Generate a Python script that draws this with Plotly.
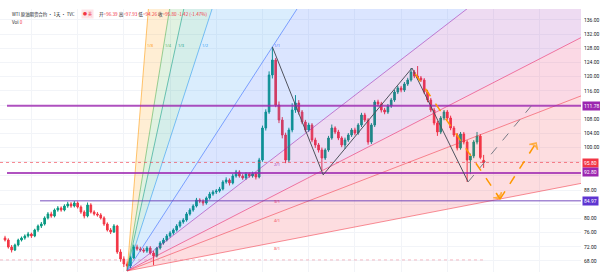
import plotly.graph_objects as go

# ---------------- data ----------------
idx = list(range(146))
opens = [74.50, 73.92, 71.94, 71.10, 72.51, 73.92, 74.48, 75.05, 75.61, 75.05,
 76.74, 77.87, 78.43, 80.13, 81.26, 80.69, 82.38, 82.95, 82.38, 83.51,
 84.08, 83.51, 84.36, 83.23, 81.82, 80.69, 83.79, 81.82, 81.26, 80.97,
 80.13, 78.43, 76.74, 76.18, 77.87, 70.53, 68.56, 67.15, 66.58, 68.84,
 71.94, 71.38, 71.10, 70.81, 71.66, 70.25, 69.40, 71.66, 73.07, 73.92,
 75.05, 75.90, 76.74, 77.87, 79.00, 79.56, 81.26, 82.38, 83.51, 85.21,
 84.92, 84.36, 85.77, 86.90, 87.46, 87.75, 88.31, 90.29, 90.85, 90.01,
 91.98, 93.11, 91.98, 91.42, 92.54, 91.98, 92.54, 91.70, 96.49, 105.52,
 110.04, 120.48, 124.71, 112.01, 107.78, 103.55, 96.49, 104.96, 110.60, 112.58,
 110.04, 107.22, 104.96, 106.37, 102.14, 100.73, 99.31, 97.06, 99.31, 102.70,
 105.52, 104.39, 102.70, 100.73, 102.14, 103.55, 104.96, 104.11, 106.37, 109.19,
 107.78, 101.57, 106.37, 112.86, 112.29, 110.60, 110.04, 111.73, 113.42, 115.68,
 116.81, 116.24, 117.94, 119.07, 121.32, 120.19, 119.63, 119.07, 115.68, 113.42,
 110.60, 106.93, 104.39, 108.34, 110.04, 108.34, 105.52, 103.55, 99.88, 103.83,
 101.57, 96.49, 97.62, 101.57, 103.26, 96.39]
closes = [73.92, 71.94, 71.10, 72.51, 73.92, 74.48, 75.05, 75.61, 75.05, 76.74,
 77.87, 78.43, 80.13, 81.26, 80.69, 82.38, 82.95, 82.38, 83.51, 84.08,
 83.51, 84.36, 83.23, 81.82, 80.69, 83.79, 81.82, 81.26, 80.97, 80.13,
 78.43, 76.74, 76.18, 77.87, 70.53, 68.56, 67.15, 66.58, 68.84, 71.94,
 71.38, 71.10, 70.81, 71.66, 70.25, 69.40, 71.66, 73.07, 73.92, 75.05,
 75.90, 76.74, 77.87, 79.00, 79.56, 81.26, 82.38, 83.51, 85.21, 84.92,
 84.36, 85.77, 86.90, 87.46, 87.75, 88.31, 90.29, 90.85, 90.01, 91.98,
 93.11, 91.98, 91.42, 92.54, 91.98, 92.54, 91.70, 96.49, 105.52, 110.04,
 120.48, 124.71, 112.01, 107.78, 103.55, 96.49, 104.96, 110.60, 112.58, 110.04,
 107.22, 104.96, 106.37, 102.14, 100.73, 99.31, 97.06, 99.31, 102.70, 105.52,
 104.39, 102.70, 100.73, 102.14, 103.55, 104.96, 104.11, 106.37, 109.19, 107.78,
 101.57, 106.37, 112.86, 112.29, 110.60, 110.04, 111.73, 113.42, 115.68, 116.81,
 116.24, 117.94, 119.07, 121.32, 120.19, 119.63, 119.07, 115.68, 113.42, 110.60,
 106.93, 104.39, 108.34, 110.04, 108.34, 105.52, 103.55, 99.88, 103.83, 101.57,
 96.49, 97.62, 101.57, 103.26, 97.22, 95.80]
highs = [75.1, 74.4, 72.5, 72.9, 74.3, 74.9, 75.5, 76.2, 76.0, 77.1,
 78.3, 79.0, 80.6, 81.8, 81.9, 82.8, 83.5, 83.4, 84.0, 84.7,
 84.6, 84.9, 84.8, 83.7, 82.3, 84.5, 84.3, 82.3, 81.8, 81.5,
 80.6, 78.9, 77.3, 78.4, 78.2, 71.3, 69.3, 67.9, 69.3, 72.6,
 72.6, 72.0, 71.7, 72.2, 72.2, 70.8, 72.0, 73.6, 74.5, 75.6,
 76.4, 77.2, 78.4, 79.5, 80.1, 81.8, 82.9, 84.0, 85.8, 85.7,
 85.4, 86.2, 87.5, 88.0, 88.3, 88.9, 90.8, 91.6, 91.3, 92.6,
 93.7, 93.6, 92.5, 93.1, 93.0, 93.2, 93.1, 97.1, 106.2, 110.8,
 121.5, 128.4, 125.3, 113.0, 108.6, 104.2, 105.6, 112.5, 114.8, 113.4,
 110.6, 107.8, 107.0, 106.9, 102.8, 101.3, 100.0, 99.8, 103.3, 106.5,
 106.0, 105.0, 103.2, 102.8, 104.1, 105.5, 105.6, 106.9, 109.8, 109.8,
 108.3, 106.9, 113.4, 113.5, 112.9, 111.2, 112.3, 114.0, 116.3, 117.4,
 117.4, 118.5, 119.7, 122.45, 121.9, 123.0, 120.2, 119.6, 116.3, 114.0,
 111.2, 107.5, 108.9, 110.6, 110.6, 109.0, 106.1, 104.1, 104.4, 104.4,
 102.1, 98.3, 102.1, 104.4, 103.8, 97.93]
lows = [73.5, 71.5, 70.4, 70.8, 72.1, 73.5, 74.0, 74.6, 74.5, 74.7,
 76.2, 77.3, 78.0, 79.7, 80.2, 80.3, 81.9, 81.9, 82.0, 83.0,
 83.0, 83.1, 82.8, 81.3, 80.0, 80.3, 81.4, 80.8, 80.5, 79.7,
 77.9, 76.3, 75.6, 75.9, 70.0, 67.8, 66.3, 65.2, 66.0, 68.5,
 70.9, 70.6, 70.3, 70.3, 69.8, 66.8, 69.0, 71.2, 72.6, 73.5,
 74.6, 75.4, 76.3, 77.4, 78.5, 79.1, 80.8, 81.9, 83.1, 84.3,
 83.6, 83.9, 85.3, 86.4, 86.9, 87.3, 87.9, 89.8, 89.3, 89.6,
 91.5, 91.5, 90.9, 90.9, 91.5, 91.5, 91.0, 91.3, 96.0, 104.8,
 109.5, 119.5, 111.4, 106.9, 102.6, 95.6, 95.9, 104.3, 109.8, 109.3,
 106.6, 104.3, 104.4, 101.5, 99.9, 98.6, 93.6, 96.5, 98.8, 102.2,
 103.8, 102.1, 100.1, 99.6, 101.6, 103.0, 103.5, 103.6, 105.8, 107.2,
 100.8, 101.0, 105.8, 111.6, 109.9, 109.4, 109.5, 111.2, 112.9, 115.1,
 115.6, 115.7, 117.4, 118.6, 119.6, 119.1, 118.5, 115.1, 112.8, 110.0,
 106.3, 103.3, 103.8, 107.7, 107.8, 104.9, 103.0, 99.2, 99.4, 100.9,
 90.3, 92.5, 97.0, 100.9, 96.7, 94.26]

# Gann fan: anchor (low) and second point (peak)
fan_start = (37, 65.2)
fan_end = (81, 128.4)
fan_ratios = [8, 4, 3, 2, 1, 1/2, 1/3, 1/4, 1/8]
fan_labels = ["1/8", "1/4", "1/3", "1/2", "1/1", "2/1", "3/1", "4/1", "8/1"]
fan_colors = ["255,152,0", "76,175,80", "8,153,129", "33,150,243", "41,98,255",
              "156,39,176", "233,30,99", "242,54,69", "242,54,69"]

# zigzag / projection drawings (bar index, price)
zig_x = [81, 96.4, 123.3, 140.3]
zig_y = [128.4, 92.3, 122.45, 90.3]
proj_gray_x = [140.3, 160.0]
proj_gray_y = [90.3, 112.4]
proj_or1_x = [124.3, 142.7, 150.0]
proj_or1_y = [120.8, 95.6, 85.5]
proj_or2_x = [150.0, 160.9]
proj_or2_y = [85.5, 101.3]

# horizontal levels
levels = [111.78, 92.80, 84.97]
level_start = [0.6, 0.6, 10.6]
last_price = 95.80
low_line = 68.3

y_ticks = [68, 72, 76, 80, 84, 88, 92, 96, 100, 104, 108, 112, 116, 120, 124, 128, 132, 136]
hidden_ticks = [84, 92, 112]   # covered by price badges
grid_x = [8, 22, 36, 50, 64, 78, 92, 106, 120, 134, 148, 162]

X0, X1 = -1.52, 174.5
Y0, Y1 = 64.89, 139.10

fig = go.Figure()

# fan fills
i0, p0 = fan_start
k = (fan_end[1] - p0) / (fan_end[0] - i0)
far = 600
for j in range(len(fan_ratios) - 1):
    ra, rb = fan_ratios[j], fan_ratios[j + 1]
    fig.add_trace(go.Scatter(
        x=[i0, i0 + far, i0 + far, i0],
        y=[p0, p0 + k * ra * far, p0 + k * rb * far, p0],
        fill="toself", mode="none",
        fillcolor=f"rgba({fan_colors[j]},0.17)", hoverinfo="skip", showlegend=False))
# fan lines
for r, c in zip(fan_ratios, fan_colors):
    fig.add_trace(go.Scatter(x=[i0, i0 + far], y=[p0, p0 + k * r * far], mode="lines",
                             line=dict(color=f"rgba({c},0.55)", width=1),
                             hoverinfo="skip", showlegend=False))

# pale dotted low line and last price line
fig.add_trace(go.Scatter(x=[X0, 145], y=[low_line, low_line], mode="lines",
                         line=dict(color="rgba(242,120,140,0.5)", width=1, dash="dot"),
                         hoverinfo="skip", showlegend=False))
fig.add_trace(go.Scatter(x=[X0, X1 + 5], y=[last_price, last_price], mode="lines",
                         line=dict(color="rgba(242,54,69,0.6)", width=1, dash="dot"),
                         hoverinfo="skip", showlegend=False))

# candles
fig.add_trace(go.Candlestick(
    x=idx, open=opens, high=highs, low=lows, close=closes,
    increasing=dict(line=dict(color="#089981", width=1), fillcolor="#089981"),
    decreasing=dict(line=dict(color="#f23645", width=1), fillcolor="#f23645"),
    whiskerwidth=0, showlegend=False, hoverinfo="skip"))

# horizontal levels
lvl_colors = ["rgba(156,39,176,0.8)", "rgba(156,39,176,0.8)", "rgba(103,58,183,0.6)"]
lvl_widths = [2, 2, 1.5]
for v, s, c, w in zip(levels, level_start, lvl_colors, lvl_widths):
    fig.add_trace(go.Scatter(x=[s, X1 + 5], y=[v, v], mode="lines",
                             line=dict(color=c, width=w), hoverinfo="skip", showlegend=False))

# zigzag + projections
fig.add_trace(go.Scatter(x=zig_x, y=zig_y, mode="lines",
                         line=dict(color="#50535e", width=1), hoverinfo="skip", showlegend=False))
fig.add_trace(go.Scatter(x=proj_gray_x, y=proj_gray_y, mode="lines",
                         line=dict(color="#787b86", width=1, dash="dash"),
                         hoverinfo="skip", showlegend=False))
for px_, py_ in [(proj_or1_x, proj_or1_y), (proj_or2_x, proj_or2_y)]:
    n = len(px_)
    fig.add_trace(go.Scatter(x=px_, y=py_, mode="lines+markers",
                             line=dict(color="#ff9800", width=1.5, dash="dash"),
                             marker=dict(symbol="arrow-wide-open", angleref="previous",
                                         size=[0] * (n - 1) + [7],
                                         color="#ff9800",
                                         line=dict(color="#ff9800", width=1.5)),
                             hoverinfo="skip", showlegend=False))

annotations = []
# fan labels
for r, lab, c in zip(fan_ratios, fan_labels, fan_colors):
    if r >= 1:
        xi = i0 + (fan_end[1] - p0) / (k * r)
        yi = fan_end[1]
        ya, ys = "middle", 1
    else:
        xi = fan_end[0]
        yi = p0 + k * r * (fan_end[0] - i0)
        ya, ys = "top", -1
    annotations.append(dict(x=xi, y=yi, xref="x", yref="y", text=lab, showarrow=False,
                            xanchor="left", yanchor=ya, xshift=0, yshift=ys,
                            font=dict(size=4, color=f"rgb({c})")))

# price badges
badges = [(111.78, "#9c27b0", 0), (last_price, "#f23645", -1), (92.80, "#9c27b0", 1),
          (84.97, "#5e35d1", 0)]
for v, c, sh in badges:
    annotations.append(dict(x=1, xref="paper", y=v, yref="y", text=f"{v:.2f}",
                            showarrow=False, xanchor="left", xshift=1, yshift=sh,
                            bgcolor=c, borderpad=1,
                            font=dict(size=5, color="white", family="Roboto")))

# header
hdr_y = 1 - 5 / 263
annotations.append(dict(
    x=10 / 581, xref="paper", y=hdr_y, yref="paper", xanchor="left", yanchor="middle",
    text="WTI 原油期货合约 · 1天 · TVC",
    showarrow=False, font=dict(size=4.4, family="Noto Sans CJK SC", color="#131722")))
annotations.append(dict(
    x=81 / 581, xref="paper", y=hdr_y, yref="paper", xanchor="left", yanchor="middle",
    text="<span style='color:#f23645'>● 美</span>", bgcolor="#fde4e7", borderpad=1,
    showarrow=False, font=dict(size=4, family="Noto Sans CJK SC")))
annotations.append(dict(
    x=97 / 581, xref="paper", y=hdr_y, yref="paper", xanchor="left", yanchor="middle",
    text=("<span style='color:#131722'>开</span><span style='color:#f23645'>=96.39</span> "
          "<span style='color:#131722'>高</span><span style='color:#f23645'>=97.93</span> "
          "<span style='color:#131722'>低</span><span style='color:#f23645'>=94.26</span> "
          "<span style='color:#131722'>收</span><span style='color:#f23645'>=95.80 -1.42 (-1.47%)</span>"),
    showarrow=False, font=dict(size=4.6, family="Noto Sans CJK SC")))
annotations.append(dict(
    x=10 / 581, xref="paper", y=1 - 13 / 263, yref="paper", xanchor="left", yanchor="middle",
    text="<span style='color:#131722'>Vol</span> <span style='color:#f23645'>0</span>",
    showarrow=False, font=dict(size=4.6, family="Noto Sans CJK SC")))

fig.update_layout(
    width=600, height=272,
    margin=dict(l=0, r=19, t=9, b=0),
    paper_bgcolor="white", plot_bgcolor="white",
    annotations=annotations,
    xaxis=dict(range=[X0, X1], showticklabels=False, tickvals=grid_x,
               showgrid=True, gridcolor="#f2f4f8", zeroline=False, showline=False,
               rangeslider=dict(visible=False), fixedrange=True),
    yaxis=dict(range=[Y0, Y1], side="right", tickvals=y_ticks,
               ticktext=["" if t in hidden_ticks else f"{t:.2f}" for t in y_ticks],
               automargin=False,
               tickfont=dict(size=5, color="#131722", family="Roboto"),
               showgrid=True, gridcolor="#f2f4f8", zeroline=False, showline=False,
               ticks="", ticklabelstandoff=2),
)

fig.write_html("out.html")
